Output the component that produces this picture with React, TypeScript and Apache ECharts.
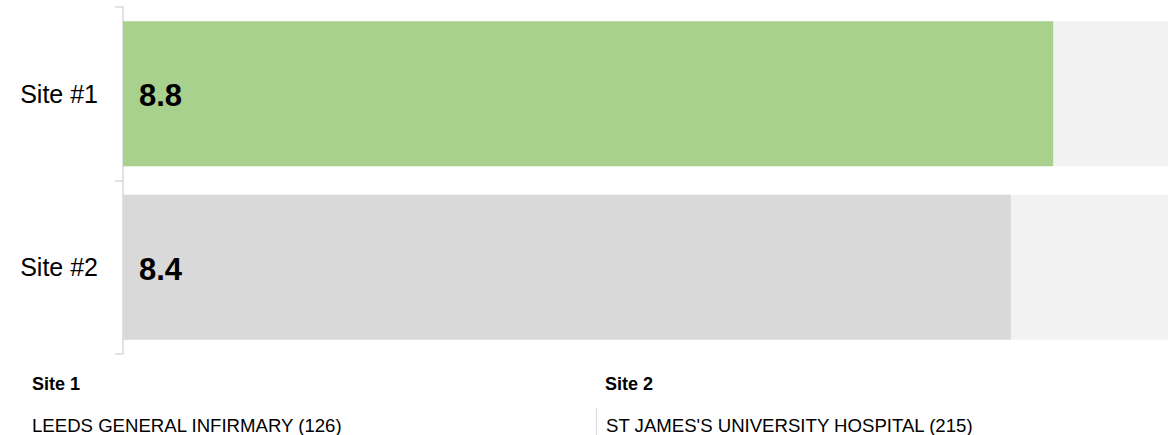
import React, { useEffect, useRef } from "react";
import * as echarts from "echarts";

// Sites shown on the category axis, top to bottom
const siteLabels: string[] = ["Site #1", "Site #2"];
// Scores per site (0–10 scale)
const scores: number[] = [8.8, 8.4];
const barColors: string[] = ["#a9d18e", "#d9d9d9"];
const scaleMax = 10;

// Legend footer: site key and hospital name with respondent count
const footerKeys: string[] = ["Site 1", "Site 2"];
const footerNames: string[] = [
  "LEEDS GENERAL INFIRMARY (126)",
  "ST JAMES'S UNIVERSITY HOSPITAL (215)",
];

const FONT = "'Liberation Sans', Arial, Helvetica, sans-serif";

export default function App() {
  const ref = useRef<HTMLDivElement>(null);

  useEffect(() => {
    if (!ref.current) return;
    const chart = echarts.init(ref.current, undefined, { renderer: "svg" });

    const keyStyle = {
      fontSize: 18,
      fontWeight: "bold",
      fontFamily: FONT,
      fill: "#000",
    };
    const nameStyle = {
      fontSize: 18.6,
      fontFamily: FONT,
      fill: "#000",
    };

    chart.setOption({
      animation: false,
      grid: { left: 123, right: 0, top: 7, bottom: 81, containLabel: false },
      xAxis: {
        type: "value",
        min: 0,
        max: scaleMax,
        show: false,
      },
      yAxis: {
        type: "category",
        inverse: true,
        data: siteLabels,
        axisLine: { show: true, lineStyle: { color: "#d9d9d9", width: 1.5 } },
        axisTick: {
          show: true,
          length: 8,
          lineStyle: { color: "#d9d9d9", width: 1.5 },
        },
        axisLabel: {
          margin: 25,
          color: "#000",
          fontSize: 25,
          fontFamily: FONT,
        },
        splitLine: { show: false },
      },
      series: [
        {
          type: "bar",
          data: scores.map((v, i) => ({
            value: v,
            itemStyle: { color: barColors[i] },
          })),
          barWidth: 145,
          showBackground: true,
          backgroundStyle: { color: "#f2f2f2" },
          label: {
            show: true,
            position: "insideLeft",
            distance: 16,
            offset: [0, 2],
            formatter: (p: any) => p.value.toFixed(1),
            color: "#000",
            fontSize: 31,
            fontWeight: "bold",
            fontFamily: FONT,
          },
        },
      ],
      graphic: [
        {
          type: "text",
          left: 32,
          top: 375,
          style: { text: footerKeys[0], ...keyStyle },
        },
        {
          type: "text",
          left: 32,
          top: 416,
          style: { text: footerNames[0], ...nameStyle },
        },
        {
          type: "line",
          shape: { x1: 596.5, y1: 408, x2: 596.5, y2: 440 },
          style: { stroke: "#d9d9d9", lineWidth: 1 },
        },
        {
          type: "text",
          left: 605,
          top: 375,
          style: { text: footerKeys[1], ...keyStyle },
        },
        {
          type: "text",
          left: 606,
          top: 416,
          style: { text: footerNames[1], ...nameStyle },
        },
      ],
    });

    return () => chart.dispose();
  }, []);

  return (
    <div
      style={{
        position: "absolute",
        left: 0,
        top: 0,
        width: 1168,
        height: 435,
        overflow: "hidden",
        background: "#fff",
      }}
    >
      <div ref={ref} style={{ width: 1180, height: 435 }} />
    </div>
  );
}
